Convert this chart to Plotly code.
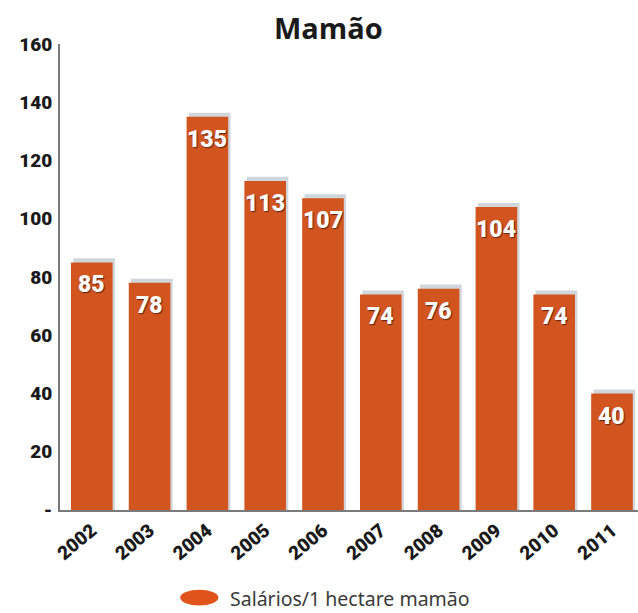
import plotly.graph_objects as go

# Salários por hectare de mamão, 2002-2011
anos = ["2002", "2003", "2004", "2005", "2006", "2007", "2008", "2009", "2010", "2011"]
salarios = [85, 78, 135, 113, 107, 74, 76, 104, 74, 40]

y_ticks = [0, 20, 40, 60, 80, 100, 120, 140, 160]
y_tick_text = ["-", "20", "40", "60", "80", "100", "120", "140", "160"]

titulo = "Mamão"
legenda = "Salários/1 hectare mamão"

cor_barra = "#d2541f"
cor_sombra = "rgba(170,180,190,0.55)"
fonte_num = "Roboto, Liberation Sans, sans-serif"

x_idx = list(range(len(anos)))

fig = go.Figure()

# soft drop shadow behind each bar
fig.add_trace(go.Bar(
    x=x_idx, y=[v + 1.4 for v in salarios],
    width=0.72, offset=-0.32,
    marker=dict(color=cor_sombra, line=dict(width=0)),
    hoverinfo="skip", showlegend=False,
))

fig.add_trace(go.Bar(
    x=x_idx, y=salarios,
    width=0.72, offset=-0.36,
    marker=dict(color=cor_barra, line=dict(width=0)),
    showlegend=False,
))

# value labels, a little below the top of each bar
rotulos = [
    dict(x=i, y=v, xref="x", yref="y", text=str(v), showarrow=False,
         xanchor="center", yanchor="top", yshift=-7,
         font=dict(family=fonte_num, size=23, color="white", weight=900,
                   shadow="1px 1px 1px #5b2410"))
    for i, v in zip(x_idx, salarios)
]

fig.update_layout(
    width=638, height=613,
    margin=dict(l=60, r=0, t=44, b=103),
    paper_bgcolor="white", plot_bgcolor="white",
    barmode="overlay",
    xaxis=dict(
        range=[-0.55, 9.45],
        tickmode="array", tickvals=x_idx, ticktext=anos,
        tickangle=-40, ticks="", showgrid=False, zeroline=False,
        showline=True, linecolor="#7a7a7a", linewidth=2,
        tickfont=dict(family=fonte_num, size=19, color="#1a1a1a", weight=900),
    ),
    yaxis=dict(
        range=[0, 160],
        tickmode="array", tickvals=y_ticks, ticktext=y_tick_text,
        ticks="", showgrid=False, zeroline=False,
        showline=True, linecolor="#7a7a7a", linewidth=2,
        ticklabelstandoff=2,
        tickfont=dict(family=fonte_num, size=19, color="#1a1a1a", weight=900),
    ),
    annotations=rotulos + [
        dict(text=titulo, xref="paper", yref="paper", x=0.465, y=1.036,
             xanchor="center", yanchor="middle", showarrow=False,
             font=dict(family="Open Sans, sans-serif", size=29, color="#1a1a1a", weight="bold")),
        dict(text=legenda, xref="paper", yref="paper", x=0.29, y=-0.19,
             xanchor="left", yanchor="middle", showarrow=False,
             font=dict(family="Noto Sans, sans-serif", size=19.5, color="#3a3a3a")),
    ],
    shapes=[
        dict(type="circle", xref="paper", yref="paper",
             x0=0.208, x1=0.274, y0=-0.205, y1=-0.171,
             fillcolor="#e0531a", line=dict(width=0)),
    ],
)

fig.write_html("out.html")
